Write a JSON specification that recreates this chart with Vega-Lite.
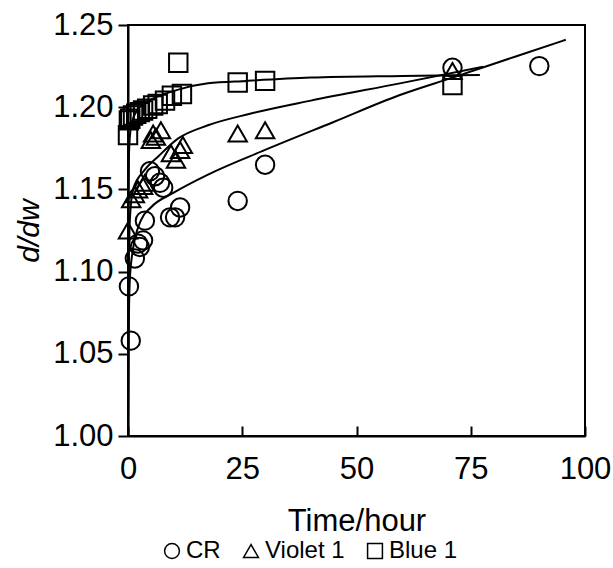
{
  "$schema": "https://vega.github.io/schema/vega-lite/v6.json",
  "width": 457,
  "height": 411,
  "autosize": "none",
  "padding": {"left": 128, "top": 25, "right": 28, "bottom": 132},
  "background": "white",
  "config": {
    "font": "Liberation Sans",
    "view": {"stroke": "black", "strokeWidth": 2},
    "axis": {"domainColor": "black", "domainWidth": 2, "tickColor": "black", "tickWidth": 2, "labelColor": "black", "titleColor": "black", "grid": false, "labelFont": "Liberation Sans", "titleFont": "Liberation Sans", "titleFontWeight": "normal"},
    "legend": {"labelFont": "Liberation Sans", "labelColor": "black"}
  },
  "datasets": {
    "points": [
      {"series": "CR", "t": 0.2, "v": 1.091},
      {"series": "CR", "t": 0.6, "v": 1.058},
      {"series": "CR", "t": 1.5, "v": 1.108},
      {"series": "CR", "t": 2.2, "v": 1.117},
      {"series": "CR", "t": 2.6, "v": 1.115},
      {"series": "CR", "t": 3.3, "v": 1.119},
      {"series": "CR", "t": 3.7, "v": 1.131},
      {"series": "CR", "t": 4.8, "v": 1.161},
      {"series": "CR", "t": 5.9, "v": 1.158},
      {"series": "CR", "t": 7.0, "v": 1.154},
      {"series": "CR", "t": 7.7, "v": 1.151},
      {"series": "CR", "t": 9.2, "v": 1.133},
      {"series": "CR", "t": 10.3, "v": 1.133},
      {"series": "CR", "t": 11.4, "v": 1.139},
      {"series": "CR", "t": 24, "v": 1.143},
      {"series": "CR", "t": 30, "v": 1.165},
      {"series": "CR", "t": 71, "v": 1.224},
      {"series": "CR", "t": 90, "v": 1.225},
      {"series": "Violet 1", "t": 0.0, "v": 1.125},
      {"series": "Violet 1", "t": 0.7, "v": 1.144},
      {"series": "Violet 1", "t": 1.5, "v": 1.147},
      {"series": "Violet 1", "t": 2.2, "v": 1.150},
      {"series": "Violet 1", "t": 3.3, "v": 1.152},
      {"series": "Violet 1", "t": 3.7, "v": 1.154},
      {"series": "Violet 1", "t": 5.0, "v": 1.180},
      {"series": "Violet 1", "t": 5.5, "v": 1.184},
      {"series": "Violet 1", "t": 6.1, "v": 1.182},
      {"series": "Violet 1", "t": 7.2, "v": 1.186},
      {"series": "Violet 1", "t": 9.4, "v": 1.172},
      {"series": "Violet 1", "t": 10.5, "v": 1.168},
      {"series": "Violet 1", "t": 11.4, "v": 1.174},
      {"series": "Violet 1", "t": 12.0, "v": 1.177},
      {"series": "Violet 1", "t": 24, "v": 1.184},
      {"series": "Violet 1", "t": 30, "v": 1.186},
      {"series": "Violet 1", "t": 71, "v": 1.222},
      {"series": "Blue 1", "t": 0.0, "v": 1.183},
      {"series": "Blue 1", "t": 0.2, "v": 1.192},
      {"series": "Blue 1", "t": 0.5, "v": 1.193},
      {"series": "Blue 1", "t": 1.1, "v": 1.195},
      {"series": "Blue 1", "t": 1.8, "v": 1.196},
      {"series": "Blue 1", "t": 2.6, "v": 1.197},
      {"series": "Blue 1", "t": 3.3, "v": 1.198},
      {"series": "Blue 1", "t": 4.2, "v": 1.199},
      {"series": "Blue 1", "t": 5.5, "v": 1.201},
      {"series": "Blue 1", "t": 6.5, "v": 1.202},
      {"series": "Blue 1", "t": 8.1, "v": 1.204},
      {"series": "Blue 1", "t": 9.6, "v": 1.207},
      {"series": "Blue 1", "t": 11.0, "v": 1.227},
      {"series": "Blue 1", "t": 11.8, "v": 1.208},
      {"series": "Blue 1", "t": 24, "v": 1.215},
      {"series": "Blue 1", "t": 30, "v": 1.216},
      {"series": "Blue 1", "t": 71, "v": 1.2135}
    ],
    "curves": [
      {"series": "CR", "t": 0.02, "v": 1.0},
      {"series": "CR", "t": 0.1, "v": 1.05},
      {"series": "CR", "t": 0.4, "v": 1.095},
      {"series": "CR", "t": 1, "v": 1.112},
      {"series": "CR", "t": 2.8, "v": 1.131},
      {"series": "CR", "t": 5, "v": 1.139},
      {"series": "CR", "t": 10, "v": 1.148},
      {"series": "CR", "t": 17.5, "v": 1.159},
      {"series": "CR", "t": 30, "v": 1.174},
      {"series": "CR", "t": 45, "v": 1.191},
      {"series": "CR", "t": 59.5, "v": 1.2074},
      {"series": "CR", "t": 71, "v": 1.218},
      {"series": "CR", "t": 85, "v": 1.231},
      {"series": "CR", "t": 95.8, "v": 1.241},
      {"series": "Violet 1", "t": 0.01, "v": 1.0},
      {"series": "Violet 1", "t": 0.1, "v": 1.08},
      {"series": "Violet 1", "t": 0.4, "v": 1.131},
      {"series": "Violet 1", "t": 1.1, "v": 1.150},
      {"series": "Violet 1", "t": 3.7, "v": 1.162},
      {"series": "Violet 1", "t": 6.6, "v": 1.170},
      {"series": "Violet 1", "t": 11, "v": 1.181},
      {"series": "Violet 1", "t": 17.5, "v": 1.189},
      {"series": "Violet 1", "t": 26.7, "v": 1.196},
      {"series": "Violet 1", "t": 40, "v": 1.204},
      {"series": "Violet 1", "t": 59.5, "v": 1.2145},
      {"series": "Violet 1", "t": 77.7, "v": 1.2246},
      {"series": "Blue 1", "t": 0.005, "v": 1.0},
      {"series": "Blue 1", "t": 0.05, "v": 1.12},
      {"series": "Blue 1", "t": 0.2, "v": 1.17},
      {"series": "Blue 1", "t": 0.5, "v": 1.185},
      {"series": "Blue 1", "t": 1, "v": 1.192},
      {"series": "Blue 1", "t": 2, "v": 1.198},
      {"series": "Blue 1", "t": 4, "v": 1.203},
      {"series": "Blue 1", "t": 7, "v": 1.207},
      {"series": "Blue 1", "t": 11.4, "v": 1.211},
      {"series": "Blue 1", "t": 17.5, "v": 1.2145},
      {"series": "Blue 1", "t": 26, "v": 1.216},
      {"series": "Blue 1", "t": 40, "v": 1.218},
      {"series": "Blue 1", "t": 60, "v": 1.219},
      {"series": "Blue 1", "t": 77, "v": 1.2196}
    ]
  },
  "encoding": {
    "x": {"field": "t", "type": "quantitative", "scale": {"domain": [0, 100], "nice": false, "zero": false},
      "axis": {"values": [0, 25, 50, 75, 100], "title": "Time/hour", "labelFontSize": 31, "titleFontSize": 31, "tickSize": -10, "labelPadding": 28, "titlePadding": 22, "labelFlush": false}},
    "y": {"field": "v", "type": "quantitative", "scale": {"domain": [1.0, 1.25], "nice": false, "zero": false},
      "axis": {"values": [1.0, 1.05, 1.1, 1.15, 1.2, 1.25], "format": ".2f", "title": "d/dw", "titleFontStyle": "italic", "labelFontSize": 31, "titleFontSize": 30, "tickSize": 10, "labelPadding": 5, "titlePadding": 8, "labelFlush": false}}
  },
  "layer": [
    {
      "data": {"name": "curves"},
      "mark": {"type": "line", "color": "black", "strokeWidth": 2, "interpolate": "monotone", "clip": true},
      "encoding": {
        "detail": {"field": "series"}
      }
    },
    {
      "data": {"name": "points"},
      "mark": {"type": "point", "filled": false, "stroke": "black", "strokeWidth": 2, "size": 340, "opacity": 1},
      "encoding": {
        "shape": {"field": "series", "type": "nominal",
          "scale": {"domain": ["CR", "Violet 1", "Blue 1"], "range": ["circle", "triangle-up", "square"]},
          "legend": {"title": null, "orient": "none", "direction": "horizontal", "legendX": 32, "legendY": 514, "labelFontSize": 24, "symbolSize": 220, "symbolStrokeWidth": 1.5, "symbolStrokeColor": "black", "symbolFillColor": "transparent", "columnPadding": 18, "labelOffset": 2}}
      }
    }
  ]
}
